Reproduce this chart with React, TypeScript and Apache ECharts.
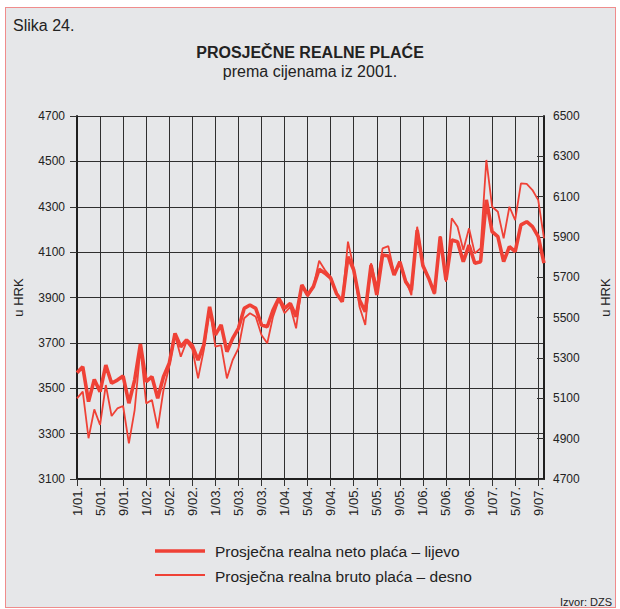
import React, { useEffect, useRef } from "react";
import * as echarts from "echarts";

const years = ["01", "02", "03", "04", "05", "06", "07"];
const monthNums = [1, 2, 3, 4, 5, 6, 7, 8, 9, 10, 11, 12];
const lastYearMonths = 10;
const categories: string[] = [];
years.forEach((y, yi) => {
  monthNums.forEach((m) => {
    if (yi === years.length - 1 && m > lastYearMonths) return;
    categories.push(`${m}/${y}.`);
  });
});

const netoSeries = [
  3568, 3595, 3441, 3539, 3485, 3602, 3522, 3536, 3554, 3434, 3536, 3695,
  3529, 3551, 3456, 3551, 3610, 3742, 3683, 3713, 3688, 3624, 3691, 3859,
  3735, 3779, 3661, 3720, 3764, 3852, 3867, 3852, 3779, 3771, 3845, 3896,
  3852, 3874, 3815, 3955, 3911, 3948, 4024, 4007, 3985, 3918, 3881, 4080,
  4021, 3889, 3837, 4043, 3911, 4087, 4083, 3999, 4058, 3970, 3933, 4197,
  4040, 3985, 3918, 4168, 3977, 4153, 4146, 4058, 4131, 4051, 4058, 4330,
  4190, 4168, 4058, 4124, 4102, 4220, 4234, 4212, 4168, 4051,
];

const brutoSeries = [
  5100, 5133, 4902, 5045, 4968, 5166, 5012, 5050, 5062, 4877, 5042, 5348,
  5075, 5092, 4951, 5141, 5257, 5414, 5306, 5381, 5344, 5199, 5340, 5546,
  5356, 5364, 5199, 5290, 5348, 5497, 5522, 5505, 5414, 5373, 5505, 5588,
  5522, 5554, 5447, 5662, 5604, 5654, 5782, 5736, 5703, 5621, 5579, 5877,
  5745, 5554, 5464, 5770, 5654, 5844, 5855, 5720, 5777, 5687, 5612, 5951,
  5765, 5695, 5617, 5905, 5678, 5993, 5951, 5836, 5943, 5819, 5844, 6282,
  6050, 6025, 5893, 6050, 5984, 6166, 6163, 6133, 6083, 5893,
];

const leftTicks = { min: 3100, max: 4700, interval: 200 };
const rightTicks = { min: 4700, max: 6500, interval: 200 };

const netoName = "Prosječna realna neto plaća – lijevo";
const brutoName = "Prosječna realna bruto plaća – desno";

const FONT = "'Liberation Sans', Arial, sans-serif";
const RED = "#ef4136";
const DARK = "#1f1f1f";

export default function App() {
  const ref = useRef<HTMLDivElement>(null);

  useEffect(() => {
    document.body.style.margin = "0";
    if (!ref.current) return;
    const chart = echarts.init(ref.current, undefined, { renderer: "svg" });
    const plain = (v: number) => String(v);
    chart.setOption({
      animation: false,
      textStyle: { fontFamily: FONT },
      grid: { left: 77, right: 67, top: 116, bottom: 130 },
      xAxis: {
        type: "category",
        data: categories,
        boundaryGap: false,
        axisLine: { lineStyle: { color: DARK, width: 2 } },
        axisTick: { interval: 3, length: 7, lineStyle: { color: "#333" } },
        axisLabel: {
          interval: 3,
          rotate: 90,
          fontSize: 13,
          color: "#222",
          margin: 8,
          fontFamily: FONT,
        },
        splitLine: { show: true, interval: 3, lineStyle: { color: "#2f2f2f", width: 1 } },
      },
      yAxis: [
        {
          type: "value",
          position: "left",
          min: leftTicks.min,
          max: leftTicks.max,
          interval: leftTicks.interval,
          axisLine: { show: true, lineStyle: { color: DARK, width: 2 } },
          axisTick: { show: true, length: 7, lineStyle: { color: "#333" } },
          axisLabel: { fontSize: 12, color: "#222", margin: 12, fontFamily: FONT, formatter: plain },
          splitLine: { show: true, lineStyle: { color: "#2f2f2f", width: 1 } },
          name: "u HRK",
          nameLocation: "middle",
          nameRotate: 90,
          nameGap: 52,
          nameTextStyle: { fontSize: 13, color: "#222", fontFamily: FONT },
        },
        {
          type: "value",
          position: "right",
          min: rightTicks.min,
          max: rightTicks.max,
          interval: rightTicks.interval,
          axisLine: { show: true, lineStyle: { color: DARK, width: 2 } },
          axisTick: { show: true, inside: true, length: 7, lineStyle: { color: "#333" } },
          axisLabel: { fontSize: 12, color: "#222", margin: 9, fontFamily: FONT, formatter: plain },
          splitLine: { show: false },
          name: "u HRK",
          nameLocation: "middle",
          nameRotate: 90,
          nameGap: 55,
          nameTextStyle: { fontSize: 13, color: "#222", fontFamily: FONT },
        },
      ],
      series: [
        {
          name: brutoName,
          type: "line",
          yAxisIndex: 1,
          data: brutoSeries,
          symbol: "none",
          lineStyle: { color: RED, width: 1.8 },
          z: 3,
        },
        {
          name: netoName,
          type: "line",
          yAxisIndex: 0,
          data: netoSeries,
          symbol: "none",
          lineStyle: { color: RED, width: 3.6 },
          z: 4,
        },
      ],
      graphic: [
        {
          type: "text",
          x: 13,
          y: 25,
          style: { text: "Slika 24.", fontSize: 16, fill: "#222", fontFamily: FONT, textVerticalAlign: "middle" },
        },
        {
          type: "text",
          x: 310,
          y: 52,
          style: {
            text: "PROSJEČNE REALNE PLAĆE",
            fontSize: 16,
            fontWeight: "bold",
            fill: "#222",
            fontFamily: FONT,
            textAlign: "center",
            textVerticalAlign: "middle",
          },
        },
        {
          type: "text",
          x: 310,
          y: 71,
          style: {
            text: "prema cijenama iz 2001.",
            fontSize: 16,
            fill: "#222",
            fontFamily: FONT,
            textAlign: "center",
            textVerticalAlign: "middle",
          },
        },
        {
          type: "line",
          shape: { x1: 155, y1: 551, x2: 205, y2: 551 },
          style: { stroke: RED, lineWidth: 3.6 },
        },
        {
          type: "text",
          x: 215,
          y: 551,
          style: { text: netoName, fontSize: 15.5, fill: "#222", fontFamily: FONT, textVerticalAlign: "middle" },
        },
        {
          type: "line",
          shape: { x1: 155, y1: 575, x2: 205, y2: 575 },
          style: { stroke: RED, lineWidth: 1.8 },
        },
        {
          type: "text",
          x: 215,
          y: 576,
          style: { text: brutoName, fontSize: 15.5, fill: "#222", fontFamily: FONT, textVerticalAlign: "middle" },
        },
        {
          type: "text",
          x: 612,
          y: 602,
          style: {
            text: "Izvor: DZS",
            fontSize: 11,
            fill: "#222",
            fontFamily: FONT,
            textAlign: "right",
            textVerticalAlign: "middle",
          },
        },
      ],
    });
    return () => chart.dispose();
  }, []);

  return (
    <div style={{ position: "fixed", left: 0, top: 0, width: 620, height: 609, background: "#ffffff" }}>
      <div
        style={{
          position: "absolute",
          left: 5,
          top: 7,
          width: 611,
          height: 601,
          background: "#e6e7e9",
          border: "1px solid #f08c8c",
          boxSizing: "border-box",
        }}
      />
      <div ref={ref} style={{ position: "absolute", left: 0, top: 0, width: 620, height: 609 }} />
    </div>
  );
}
